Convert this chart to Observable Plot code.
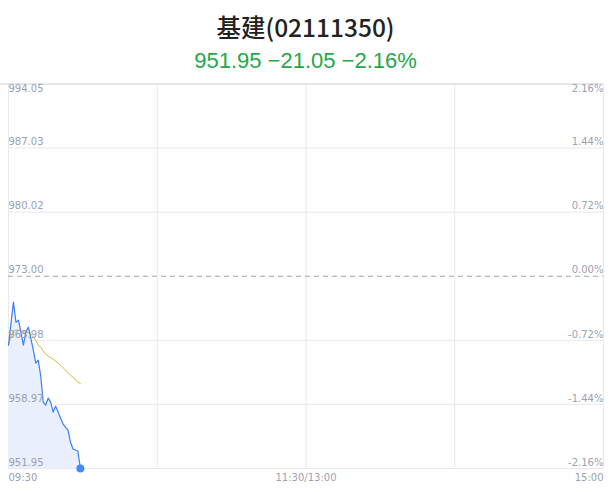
<!DOCTYPE html>
<html>
<head>
<meta charset="utf-8">
<script src="https://cdn.jsdelivr.net/npm/d3@7"></script>
<script src="https://cdn.jsdelivr.net/npm/@observablehq/plot@0.6"></script>
<style>
  html, body { margin: 0; padding: 0; background: #fff; }
  #wrap { width: 611px; }
  #title { height: 44px; line-height: 30px; padding-top: 12px; box-sizing: border-box; text-align: center;
    font-family: "Noto Sans CJK SC", "Noto Sans", sans-serif; font-size: 24.5px; font-weight: 500; color: #222; }
  #sub { height: 39px; line-height: 34px; text-align: center; font-family: "Liberation Sans", Arial, sans-serif;
    font-size: 22px; color: #1fa84a; }
  svg { display: block; }
</style>
</head>
<body>
<div id="wrap">
  <div id="title">基建(02111350)</div>
  <div id="sub">951.95 −21.05 −2.16%</div>
  <div id="chart"></div>
</div>
<script>
const times = ["09:30","09:31","09:32","09:33","09:34","09:35","09:36","09:37","09:38","09:39",
  "09:40","09:41","09:42","09:43","09:44","09:45","09:46","09:47","09:48","09:49",
  "09:50","09:51","09:52","09:53","09:54","09:55","09:56","09:57","09:58","09:59"];
const prices = [965.45,967.86,970.16,967.97,968.19,966.88,965.45,966.88,967.42,966.22,
  964.91,963.49,963.81,962.07,959.22,958.89,959.66,959.22,958.13,958.78,
  958.13,957.47,956.82,956.49,956.16,954.85,954.08,953.97,953.86,951.95];
const avgPrices = [965.45,966.44,966.99,967.10,967.10,966.99,966.88,966.88,966.82,966.66,
  966.33,966.00,965.45,965.24,964.80,964.47,964.25,964.09,963.92,963.71,
  963.49,963.27,962.99,962.72,962.45,962.17,961.96,961.63,961.41,961.24];
const preClose = 973.00;
const priceTicks = [994.05,987.03,980.02,973.00,965.98,958.97,951.95];
const pctTicks = ["2.16%","1.44%","0.72%","0.00%","-0.72%","-1.44%","-2.16%"];
const timeTickMinutes = [0, 120, 240];
const timeTickLabels = ["09:30", "11:30/13:00", "15:00"];
const vGrid = [0,60,120,180,240];

function toMin(t) {
  const [h, mm] = t.split(":").map(Number);
  const m = h * 60 + mm;
  return m <= 690 ? m - 570 : m - 780 + 120;
}
const data = times.map((t, i) => ({m: toMin(t), price: prices[i], avg: avgPrices[i]}));
const last = data[data.length - 1];
const yMin = priceTicks[priceTicks.length - 1], yMax = priceTicks[0];
const gray = "#9a9fb2";
const tickRows = priceTicks.map((v, i) => ({v, pct: pctTicks[i]}));
const topRows = tickRows.slice(0, 1), otherRows = tickRows.slice(1);
const timeRows = timeTickMinutes.map((m, i) => ({m, label: timeTickLabels[i]}));
const lblStyle = {fontSize: 10, fill: gray};

const chart = Plot.plot({
  width: 611,
  height: 409,
  marginTop: 0.5,
  marginBottom: 24,
  marginLeft: 8,
  marginRight: 8,
  x: {domain: [0, 240], axis: null},
  y: {domain: [yMin, yMax], axis: null},
  style: {fontFamily: "DejaVu Sans, sans-serif", overflow: "visible"},
  marks: [
    Plot.ruleX(vGrid, {x: d => d, y1: yMin, y2: yMax, stroke: "#e8e8ee", strokeWidth: 1}),
    Plot.ruleY(priceTicks.filter(v => v !== preClose && v !== yMax), {y: d => d, x1: 0, x2: 240, stroke: "#e8e8ee", strokeWidth: 1}),
    Plot.ruleY([yMax], {y: d => d, x1: -3.3, x2: 240, stroke: "#dcdce4", strokeWidth: 1.5}),
    Plot.ruleY([preClose], {y: d => d, x1: 0, x2: 240, stroke: "#9ca3bd", strokeWidth: 1, strokeDasharray: "5,4"}),
    Plot.areaY(data, {x: "m", y1: yMin, y2: "price", fill: "#e9effc", fillOpacity: 1}),
    Plot.lineY(data, {x: "m", y: "avg", stroke: "#d4b73a", strokeWidth: 1}),
    Plot.lineY(data, {x: "m", y: "price", stroke: "#3b7ff0", strokeWidth: 1.2}),
    Plot.dot([last], {x: "m", y: "price", r: 4, fill: "#3c8df7", stroke: "none"}),
    Plot.text(topRows, {x: 0, y: "v", text: d => d.v.toFixed(2), textAnchor: "start", dy: 5, ...lblStyle}),
    Plot.text(otherRows, {x: 0, y: "v", text: d => d.v.toFixed(2), textAnchor: "start", dy: -6, ...lblStyle}),
    Plot.text(topRows, {x: 240, y: "v", text: "pct", textAnchor: "end", dy: 5, ...lblStyle}),
    Plot.text(otherRows, {x: 240, y: "v", text: "pct", textAnchor: "end", dy: -6, ...lblStyle}),
    Plot.text(timeRows.slice(0, 1), {x: "m", y: yMin, text: "label", textAnchor: "start", dy: 9, ...lblStyle}),
    Plot.text(timeRows.slice(1, 2), {x: "m", y: yMin, text: "label", textAnchor: "middle", dy: 9, ...lblStyle}),
    Plot.text(timeRows.slice(2), {x: "m", y: yMin, text: "label", textAnchor: "end", dy: 9, ...lblStyle}),
  ]
});
document.getElementById("chart").appendChild(chart);
</script>
</body>
</html>
